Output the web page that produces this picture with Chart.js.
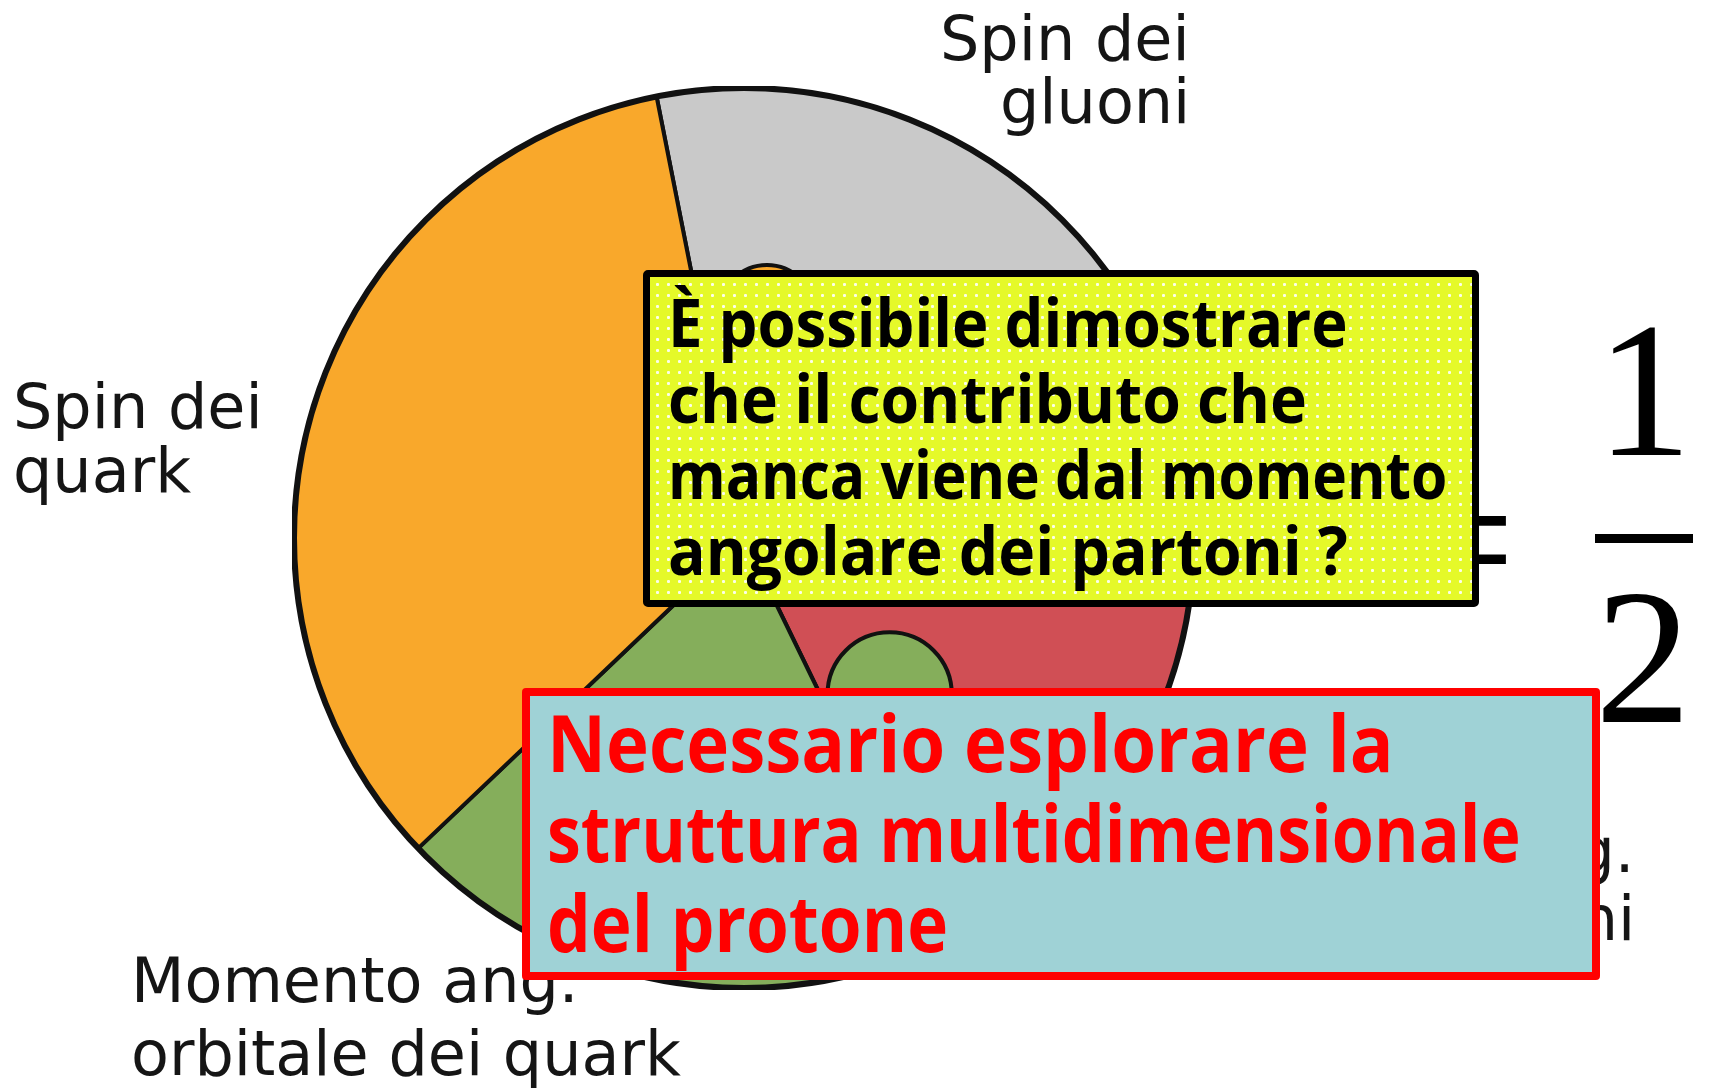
<!DOCTYPE html>
<html>
<head>
<meta charset="utf-8">
<script src="https://cdn.jsdelivr.net/npm/chart.js@4"></script>
<style>
html,body{margin:0;padding:0;background:#ffffff;}
body{width:1712px;height:1089px;position:relative;overflow:hidden;}
#pieWrap{position:absolute;left:292px;top:86px;width:904px;height:904px;z-index:0;}
.box{position:absolute;box-sizing:border-box;}
#qbox{left:643px;top:270px;width:836px;height:337px;border:7px solid #000;border-radius:5px;z-index:3;
  background:radial-gradient(circle, rgba(255,255,255,0.9) 0, rgba(255,255,255,0.9) 1.2px, rgba(255,255,255,0) 2px) 2px 2px/11px 11px, #E5F929;}
#cbox{left:522px;top:688px;width:1078px;height:292px;border:8px solid #FF0000;border-radius:4px;z-index:3;background:#9FD2D6;}
#fracBar{position:absolute;left:1595px;top:534px;width:98px;height:9px;background:#000;z-index:1;}
.txt{position:absolute;white-space:pre;line-height:normal;}
</style>
</head>
<body>
<div id="pieWrap"><canvas id="pie"></canvas></div>
<div id="qbox" class="box"></div>
<div id="cbox" class="box"></div>
<div id="fracBar"></div>
<script>
// ---------------- data ----------------
const categories = ['Spin dei gluoni', 'Momento ang. orbitale dei gluoni', 'Momento ang. orbitale dei quark', 'Spin dei quark'];
const shares = [23.0, 22.9, 20.1, 34.0];          // percent of the pie, clockwise from the gluon-spin slice
const startAngleDeg = -11.2;                        // where the first slice begins (degrees from 12 o'clock)
const sliceColors = ['#C9C9C9', '#D04F55', '#85AE5B', '#F9A82B'];
const sliceLabelLines = [['Spin dei', 'gluoni'], ['Momento ang.', 'orbitale dei gluoni'], ['Momento ang.', 'orbitale dei quark'], ['Spin dei', 'quark']];
const questionLines = ['È possibile dimostrare', 'che il contributo che', 'manca viene dal momento', 'angolare dei partoni ?'];
const conclusionLines = ['Necessario esplorare la', 'struttura multidimensionale', 'del protone'];
const equalsSign = '=';
const fractionNumerator = '1';
const fractionDenominator = '2';

// ---------------- layout / style ----------------
const labelFont = '400 62px "DejaVu Sans", sans-serif';
const labelLayout = [
  {x: 1190, baselines: [60, 123], align: 'right'},
  {x: 1635, baselines: [872, 940], align: 'right'},
  {x: 131, baselines: [1002, 1075], align: 'left'},
  {x: 13, baselines: [428, 492], align: 'left'}
];
const questionLayout = {x: 668, baselines: [347, 423, 499, 575], widths: [680, 639, 779, 680],
  font: '700 66px "Comic Sans MS", "Open Sans", sans-serif', color: '#000000', z: 5};
const conclusionLayout = {x: 547, baselines: [772, 862, 952], widths: [847, 974, 401],
  font: '700 78px "Comic Sans MS", "Open Sans", sans-serif', color: '#FF0000', z: 5};
const mathFont = '400 192px "Liberation Serif", "DejaVu Serif", serif';
const knobs = [
  {slice: 3, edge: 'end', offsetDeg: 17, dist: 0.505, size: 0.104},
  {slice: 2, edge: 'start', offsetDeg: -17, dist: 0.475, size: 0.138}
];

// ---------------- chart ----------------
const knobPlugin = {
  id: 'knobs',
  afterDatasetsDraw(chart) {
    const meta = chart.getDatasetMeta(0);
    const ctx = chart.ctx;
    knobs.forEach(k => {
      const arc = meta.data[k.slice];
      const p = arc.getProps(['x', 'y', 'outerRadius', 'startAngle', 'endAngle'], true);
      const base = k.edge === 'end' ? p.endAngle : p.startAngle;
      const a = base + k.offsetDeg * Math.PI / 180;
      const cx = p.x + Math.cos(a) * k.dist * p.outerRadius;
      const cy = p.y + Math.sin(a) * k.dist * p.outerRadius;
      ctx.save();
      ctx.beginPath();
      ctx.arc(cx, cy, k.size * p.outerRadius, 0, Math.PI * 2);
      ctx.fillStyle = sliceColors[k.slice];
      ctx.fill();
      ctx.lineWidth = 4;
      ctx.strokeStyle = '#111';
      ctx.stroke();
      ctx.restore();
    });
    const a0 = meta.data[0];
    ctx.save();
    ctx.beginPath();
    ctx.arc(a0.x, a0.y, a0.outerRadius, 0, Math.PI * 2);
    ctx.lineWidth = 6;
    ctx.strokeStyle = '#111';
    ctx.stroke();
    ctx.restore();
  }
};

new Chart(document.getElementById('pie'), {
  type: 'pie',
  data: {
    labels: categories,
    datasets: [{
      data: shares,
      backgroundColor: sliceColors,
      borderColor: '#111',
      borderWidth: 4,
      hoverOffset: 0
    }]
  },
  options: {
    responsive: true,
    maintainAspectRatio: false,
    animation: false,
    rotation: startAngleDeg,
    layout: {padding: 0},
    events: [],
    plugins: {legend: {display: false}, tooltip: {enabled: false}}
  },
  plugins: [knobPlugin]
});

// ---------------- text ----------------
const placed = [];
function placeText(text, x, baseline, align, font, color, z, targetWidth) {
  const d = document.createElement('div');
  d.className = 'txt';
  d.style.font = font;
  d.style.color = color;
  d.style.zIndex = z;
  d.textContent = text;
  const m = document.createElement('span');
  m.style.cssText = 'display:inline-block;width:0;height:0;vertical-align:baseline;';
  d.appendChild(m);
  document.body.appendChild(d);
  placed.push({d, m, text, x, baseline, align, targetWidth});
}
function layoutAll() {
  placed.forEach(o => {
    o.d.style.transform = 'none';
    const w = o.d.offsetWidth;
    const top = o.baseline - o.m.offsetTop;
    o.d.style.top = top + 'px';
    let sx = 1;
    if (o.targetWidth) sx = o.targetWidth / w;
    const ew = w * sx;
    let left = o.x;
    if (o.align === 'right') left = o.x - ew;
    else if (o.align === 'center') left = o.x - ew / 2;
    o.d.style.left = left + 'px';
    o.d.style.transformOrigin = '0 0';
    if (sx !== 1) o.d.style.transform = 'scaleX(' + sx + ')';
  });
}

sliceLabelLines.forEach((lines, i) => {
  const L = labelLayout[i];
  lines.forEach((t, j) => placeText(t, L.x, L.baselines[j], L.align, labelFont, '#151515', 1));
});
questionLines.forEach((t, j) => placeText(t, questionLayout.x, questionLayout.baselines[j], 'left', questionLayout.font, questionLayout.color, questionLayout.z, questionLayout.widths[j]));
conclusionLines.forEach((t, j) => placeText(t, conclusionLayout.x, conclusionLayout.baselines[j], 'left', conclusionLayout.font, conclusionLayout.color, conclusionLayout.z, conclusionLayout.widths[j]));
placeText(equalsSign, 1515, 604, 'right', mathFont, '#000', 1);
placeText(fractionNumerator, 1644, 455, 'center', mathFont, '#000', 1);
placeText(fractionDenominator, 1643, 722, 'center', mathFont, '#000', 1);

layoutAll();
if (document.fonts && document.fonts.ready) document.fonts.ready.then(layoutAll);
</script>
</body>
</html>
